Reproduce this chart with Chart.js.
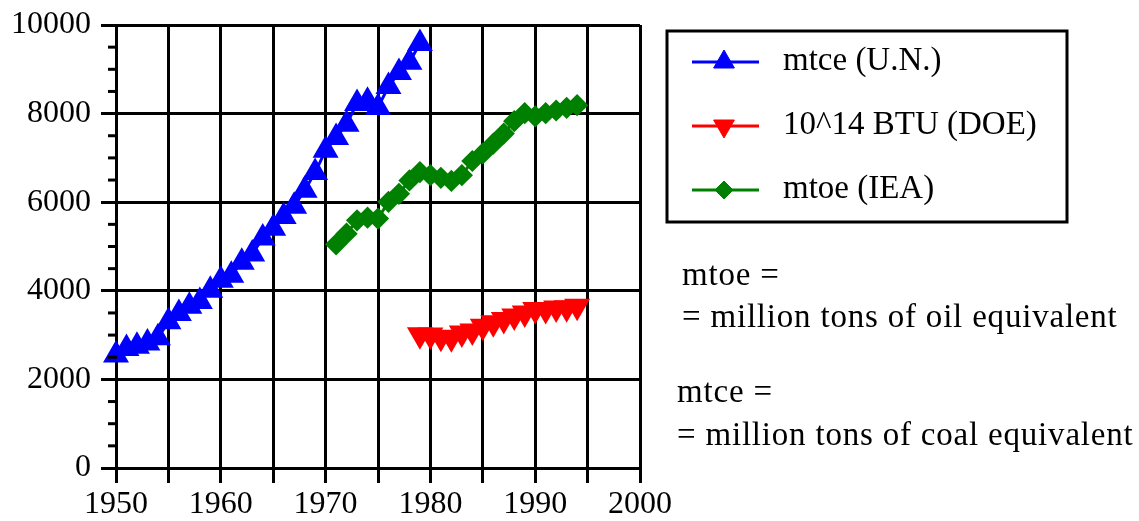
<!DOCTYPE html>
<html>
<head>
<meta charset="utf-8">
<script src="https://cdn.jsdelivr.net/npm/chart.js@4/dist/chart.umd.min.js"></script>
<style>
  body { margin: 0; background: #fff; }
  #wrap { position: relative; width: 1139px; height: 521px; }
  .txt {
    position: absolute;
    font-family: "Liberation Serif", serif;
    font-size: 33px;
    line-height: 40px;
    color: #000;
    white-space: nowrap;
  }
  .note { letter-spacing: 0.8px; }
</style>
</head>
<body>
<div id="wrap">
  <canvas id="chart" width="1139" height="521"></canvas>
  <div class="txt" style="left:783px; top:39px;">mtce (U.N.)</div>
  <div class="txt" style="left:783px; top:103px;">10^14 BTU (DOE)</div>
  <div class="txt" style="left:783px; top:167px;">mtoe (IEA)</div>
  <div class="txt note" style="left:682px; top:254px;">mtoe =</div>
  <div class="txt note" style="left:682px; top:296px;">= million tons of oil equivalent</div>
  <div class="txt note" style="left:677px; top:371px;">mtce =</div>
  <div class="txt note" style="left:677px; top:414px;">= million tons of coal equivalent</div>
</div>
<script>
const unYears = [1950, 1951, 1952, 1953, 1954, 1955, 1956, 1957, 1958, 1959,
  1960, 1961, 1962, 1963, 1964, 1965, 1966, 1967, 1968, 1969,
  1970, 1971, 1972, 1973, 1974, 1975, 1976, 1977, 1978, 1979];
const unValues = [2550, 2700, 2750, 2820, 2940, 3300, 3490, 3650, 3760, 4010,
  4240, 4350, 4645, 4830, 5190, 5410, 5680, 5910, 6270, 6670,
  7170, 7460, 7760, 8230, 8280, 8140, 8610, 8930, 9160, 9580];

const doeYears = [1979, 1980, 1981, 1982, 1983, 1984, 1985, 1986,
  1987, 1988, 1989, 1990, 1991, 1992, 1993, 1994];
const doeValues = [3010, 3000, 2950, 2940, 3050, 3090, 3200, 3280,
  3350, 3430, 3500, 3580, 3580, 3610, 3620, 3650];

const ieaYears = [1971, 1972, 1973, 1974, 1975, 1976, 1977, 1978, 1979, 1980, 1981, 1982,
  1983, 1984, 1985, 1986, 1987, 1988, 1989, 1990, 1991, 1992, 1993, 1994];
const ieaValues = [5050, 5290, 5590, 5650, 5630, 6010, 6190, 6490, 6680, 6610, 6550, 6480,
  6610, 6930, 7100, 7320, 7550, 7830, 8010, 7940, 8010, 8070, 8130, 8190];

const xTicks = [1950, 1960, 1970, 1980, 1990, 2000];
const yTicks = [0, 2000, 4000, 6000, 8000, 10000];

function toPoints(xs, ys) {
  return xs.map((x, i) => ({ x: x, y: ys[i] }));
}

const FONT = { family: 'Liberation Serif', size: 32 };

// minor ticks on the y axis + the boxed legend
const extras = {
  id: 'extras',
  afterDraw(chart) {
    const ctx = chart.ctx;
    const y = chart.scales.y;
    ctx.save();
    ctx.strokeStyle = '#000';
    ctx.lineWidth = 3;
    for (let v = 500; v < 10000; v += 500) {
      if (v % 2000 === 0) continue;
      const py = y.getPixelForValue(v);
      ctx.beginPath();
      ctx.moveTo(y.right - 8, py);
      ctx.lineTo(y.right + 1, py);
      ctx.stroke();
    }

    // legend box
    ctx.lineWidth = 3;
    ctx.strokeRect(667, 31, 400, 191);
    const rows = [62, 126, 190];
    chart.data.datasets.forEach((ds, i) => {
      ctx.strokeStyle = ds.borderColor;
      ctx.lineWidth = 3;
      ctx.beginPath();
      ctx.moveTo(692, rows[i]);
      ctx.lineTo(759, rows[i]);
      ctx.stroke();
      ctx.fillStyle = ds.pointBackgroundColor;
      ctx.strokeStyle = ds.borderColor;
      ctx.lineWidth = 1;
      Chart.helpers.drawPoint(ctx, {
        pointStyle: ds.pointStyle,
        radius: ds.pointRadius,
        rotation: ds.pointRotation || 0,
        borderWidth: 1
      }, 724, rows[i]);
    });
    ctx.restore();
  }
};

const ctx = document.getElementById('chart').getContext('2d');
new Chart(ctx, {
  type: 'line',
  data: {
    datasets: [{
      label: 'mtce (U.N.)',
      data: toPoints(unYears, unValues),
      borderColor: '#0000ff',
      pointBackgroundColor: '#0000ff',
      pointBorderColor: '#0000ff',
      pointStyle: 'triangle',
      pointRadius: 12,
      borderWidth: 3,
      clip: false
    }, {
      label: '10^14 BTU (DOE)',
      data: toPoints(doeYears, doeValues),
      borderColor: '#ff0000',
      pointBackgroundColor: '#ff0000',
      pointBorderColor: '#ff0000',
      pointStyle: 'triangle',
      pointRotation: 180,
      pointRadius: 12,
      borderWidth: 3,
      clip: false
    }, {
      label: 'mtoe (IEA)',
      data: toPoints(ieaYears, ieaValues),
      borderColor: '#008000',
      pointBackgroundColor: '#008000',
      pointBorderColor: '#008000',
      pointStyle: 'rectRot',
      pointRadius: 9,
      borderWidth: 3,
      clip: false
    }]
  },
  options: {
    responsive: false,
    animation: false,
    events: [],
    layout: { padding: { left: 0, top: 25, right: 499, bottom: 0 } },
    plugins: { legend: { display: false }, tooltip: { enabled: false } },
    scales: {
      x: {
        type: 'linear',
        min: 1950,
        max: 2000,
        afterFit(scale) { scale.height = 53; },
        ticks: {
          stepSize: 5,
          autoSkip: false,
          maxRotation: 0,
          padding: 2,
          color: '#000',
          font: FONT,
          callback: v => xTicks.includes(v) ? String(v) : ''
        },
        grid: { color: '#000', lineWidth: 3, tickLength: 15 },
        border: { color: '#000', width: 3 }
      },
      y: {
        min: 0,
        max: 10000,
        afterFit(scale) {
          scale.width = 116;
          scale.paddingTop = 0;
          scale.paddingBottom = 0;
        },
        ticks: {
          stepSize: 2000,
          padding: 10,
          color: '#000',
          font: FONT,
          callback: v => yTicks.includes(v) ? String(v) : ''
        },
        grid: { color: '#000', lineWidth: 3, tickLength: 15 },
        border: { color: '#000', width: 3 }
      }
    }
  },
  plugins: [extras]
});
</script>
</body>
</html>
